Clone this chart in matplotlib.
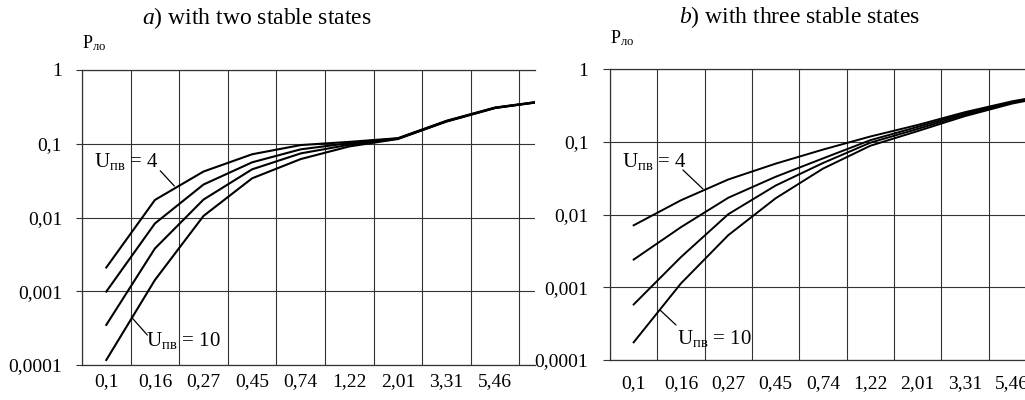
"""
Loss probability vs. parameter for a two-state and a three-state element.
"""

import matplotlib

matplotlib.use("Agg")
import matplotlib.pyplot as plt
from matplotlib.ticker import FixedLocator, NullLocator

plt.rcParams["font.family"] = ["Liberation Serif", "DejaVu Serif"]
plt.rcParams["mathtext.fontset"] = "custom"
plt.rcParams["mathtext.rm"] = "Liberation Serif"
plt.rcParams["mathtext.it"] = "Liberation Serif:italic"

# categories along x (equally spaced columns), last one lies past the cut edge
x_labels = ["0,1", "0,16", "0,27", "0,45", "0,74", "1,22", "2,01", "3,31", "5,46", "9,03"]
y_ticks = [1e-4, 1e-3, 1e-2, 1e-1, 1]
y_labels = ["0,0001", "0,001", "0,01", "0,1", "1"]
u_values = [4, 6, 8, 10]

# a) two stable states
two_u4 = [0.0021, 0.0173, 0.042, 0.072, 0.096, 0.106, 0.119, 0.205, 0.31, 0.38]
two_u6 = [0.00099, 0.0083, 0.028, 0.056, 0.084, 0.102, 0.118, 0.203, 0.308, 0.378]
two_u8 = [0.00035, 0.0038, 0.0175, 0.045, 0.074, 0.097, 0.117, 0.201, 0.306, 0.376]
two_u10 = [0.000117, 0.00142, 0.0105, 0.034, 0.062, 0.092, 0.116, 0.2, 0.305, 0.375]

# b) three stable states
three_u4 = [0.0071, 0.0157, 0.0303, 0.050, 0.078, 0.118, 0.17, 0.255, 0.36, 0.47]
three_u6 = [0.0024, 0.0067, 0.017, 0.033, 0.059, 0.105, 0.16, 0.245, 0.35, 0.46]
three_u8 = [0.00058, 0.0026, 0.0101, 0.025, 0.051, 0.097, 0.15, 0.235, 0.345, 0.455]
three_u10 = [0.000175, 0.00113, 0.0052, 0.0167, 0.0427, 0.088, 0.14, 0.225, 0.335, 0.45]

GRID = "0.2"


def setup_axes(ax, x_right, tick_len, tick_pad, x_pad):
    n = len(x_labels)
    ax.set_yscale("log")
    ax.set_ylim(1e-4, 1)
    ax.set_xlim(-0.5, x_right)
    ax.xaxis.set_major_locator(FixedLocator(range(n)))
    ax.set_xticklabels(x_labels)
    ax.xaxis.set_minor_locator(FixedLocator([i - 0.5 for i in range(n)]))
    ax.tick_params(axis="x", which="both", length=0, pad=x_pad, labelsize=14)
    ax.yaxis.set_major_locator(FixedLocator(y_ticks))
    ax.yaxis.set_minor_locator(NullLocator())
    ax.set_yticklabels(y_labels)
    ax.tick_params(axis="y", length=tick_len, width=0.8, pad=tick_pad,
                   labelsize=14, color=GRID)
    ax.grid(True, axis="x", which="minor", color=GRID, lw=0.8)
    ax.grid(True, axis="y", which="major", color=GRID, lw=0.8)
    ax.grid(False, axis="x", which="major")
    for side in ("left", "top", "bottom"):
        ax.spines[side].set_color(GRID)
        ax.spines[side].set_linewidth(0.9)
    ax.spines["right"].set_visible(False)
    ax.set_axisbelow(True)


def label_u(ax, u, text_xy, ha, line_from, line_to):
    ax.text(*text_xy, f"U$_{{\\mathrm{{пв}}}}$ = {u}", ha=ha, va="center", fontsize=15)
    ax.annotate("", xy=line_to, xytext=line_from,
                arrowprops=dict(arrowstyle="-", lw=0.9, color="black",
                                shrinkA=0, shrinkB=0))


fig = plt.figure(figsize=(10.25, 4), dpi=100)

ax_a = fig.add_axes([82 / 1025, 35 / 400, 453 / 1025, 295 / 400])
setup_axes(ax_a, 8.82, 4.3, 10, 5.5)
xs = range(len(x_labels))
for ys in (two_u4, two_u6, two_u8, two_u10):
    ax_a.plot(xs, ys, color="black", lw=1.5, solid_joinstyle="miter")
label_u(ax_a, u_values[0], (1.09, 0.057), "right", (1.11, 0.043), (1.40, 0.0267))
label_u(ax_a, u_values[-1], (0.823, 0.000218), "left", (0.514, 0.000448), (0.844, 0.000255))

ax_b = fig.add_axes([610 / 1025, 40 / 400, 415 / 1025, 291 / 400])
setup_axes(ax_b, 8.27, 5, 10.5, 11)
for ys in (three_u4, three_u6, three_u8, three_u10):
    ax_b.plot(xs, ys, color="black", lw=1.4)
label_u(ax_b, u_values[0], (1.127, 0.0532), "right", (1.042, 0.0409), (1.465, 0.0224))
label_u(ax_b, u_values[-1], (0.915, 0.0002), "left", (0.556, 0.000487), (0.894, 0.000303))

fig.text(257 / 1025, 1 - 18 / 400, "$\\mathit{a}$) with two stable states",
         ha="center", va="center", fontsize=17)
fig.text(800 / 1025, 1 - 17 / 400, "$\\mathit{b}$) with three stable states",
         ha="center", va="center", fontsize=17)
fig.text(82 / 1025, 1 - 43 / 400, "P$_{\\mathrm{ло}}$", ha="left", va="center", fontsize=13)
fig.text(610 / 1025, 1 - 38 / 400, "P$_{\\mathrm{ло}}$", ha="left", va="center", fontsize=13)

fig.savefig("out.png", dpi=100)
